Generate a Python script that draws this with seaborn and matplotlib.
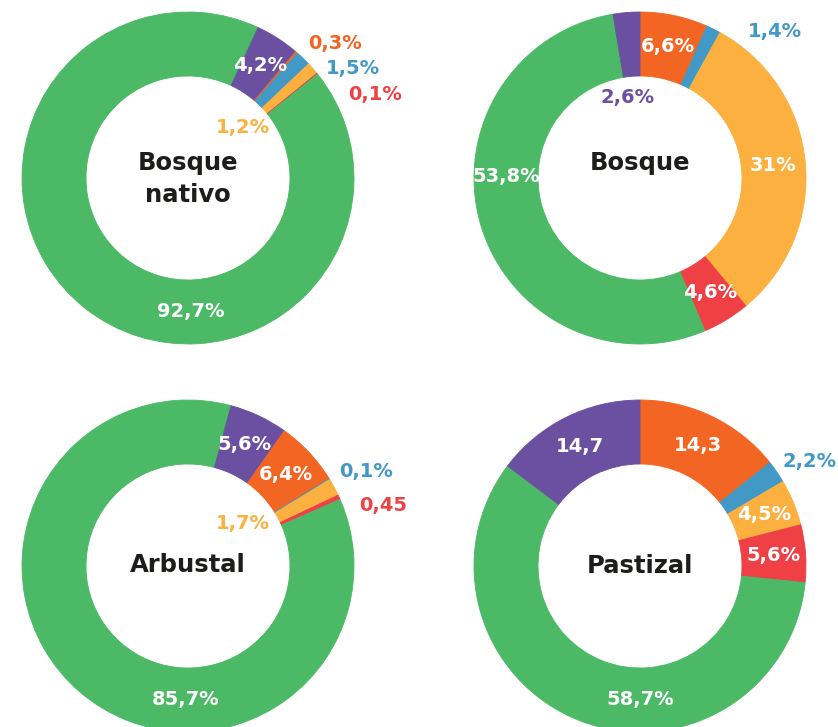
import matplotlib
matplotlib.use("Agg")
import matplotlib.pyplot as plt
import numpy as np
import seaborn as sns

# Land-cover categories, in clockwise drawing order
categories = ["Naranja", "Azul", "Amarillo", "Rojo", "Verde", "Violeta"]
palette = sns.color_palette(["#F26522", "#4299C6", "#FBB040", "#EE4045", "#4BB965", "#6B4FA1"])

# Shares (%) per land-cover class
titles = ["Bosque\nnativo", "Bosque", "Arbustal", "Pastizal"]
bosque_nativo = [0.3, 1.5, 1.2, 0.1, 92.7, 4.2]
bosque = [6.6, 1.4, 31.0, 4.6, 53.8, 2.6]
arbustal = [6.4, 0.1, 1.7, 0.45, 85.7, 5.6]
pastizal = [14.3, 2.2, 4.5, 5.6, 58.7, 14.7]

# Printed labels for each slice (same order as the values)
labels_bosque_nativo = ["0,3%", "1,5%", "1,2%", "0,1%", "92,7%", "4,2%"]
labels_bosque = ["6,6%", "1,4%", "31%", "4,6%", "53,8%", "2,6%"]
labels_arbustal = ["6,4%", "0,1%", "1,7%", "0,45", "85,7%", "5,6%"]
labels_pastizal = ["14,3", "2,2%", "4,5%", "5,6%", "58,7%", "14,7"]

W, H = 838, 727
sns.set_theme(style="white")
plt.rcParams["font.family"] = ["DejaVu Sans"]

fig = plt.figure(figsize=(W / 100, H / 100), dpi=100)
ax = fig.add_axes([0, 0, 1, 1])

R = 166.0
RING = 64.0
LABEL_R = (R - RING / 2) / R  # mid-ring radius as a fraction of R

# Per-donut layout: centre (px, from top-left), angle (deg, clockwise from
# 12 o'clock) where the first drawn slice begins, title offset and label
# placement.
# Placement: "in" -> inside the slice at its mid-angle,
#            ("ang", a) -> inside the ring at angle a,
#            (dx, dy)  -> free position relative to centre, in units of R.
charts = [
    dict(values=bosque_nativo, labels=labels_bosque_nativo, title=titles[0],
         center=(188, 178), start=25 + 15.12, title_dy=-1,
         place=[(0.886, 0.813), (0.994, 0.657), (0.331, 0.307), (1.127, 0.506),
                ("ang", 179), "in"]),
    dict(values=bosque, labels=labels_bosque, title=titles[1],
         center=(640, 178), start=0, title_dy=15,
         place=["in", (0.813, 0.880), "in", "in", ("ang", 270.5), (-0.072, 0.482)]),
    dict(values=arbustal, labels=labels_arbustal, title=titles[2],
         center=(188, 566), start=15 + 20.2, title_dy=1,
         place=["in", (1.072, 0.568), (0.331, 0.259), (1.175, 0.367),
                ("ang", 181), "in"]),
    dict(values=pastizal, labels=labels_pastizal, title=titles[3],
         center=(640, 566), start=0, title_dy=0,
         place=["in", (1.024, 0.627), "in", "in", ("ang", 180), "in"]),
]

for ch in charts:
    cx, cy_top = ch["center"]
    cy = H - cy_top
    vals = np.asarray(ch["values"], dtype=float)
    wedges, _ = ax.pie(
        vals, colors=palette, startangle=90 - ch["start"], counterclock=False,
        radius=R, center=(cx, cy), frame=True,
        wedgeprops=dict(width=RING, linewidth=0.6),
    )
    for w in wedges:
        w.set_edgecolor(w.get_facecolor())

    # cumulative angles (clockwise from top)
    fr = vals / vals.sum() * 360.0
    ends = ch["start"] + np.cumsum(fr)
    mids = ends - fr / 2

    for i, (txt, pl) in enumerate(zip(ch["labels"], ch["place"])):
        if isinstance(pl, str) or (isinstance(pl, tuple) and pl[0] == "ang"):
            a = mids[i] if isinstance(pl, str) else pl[1]
            a = np.deg2rad(a)
            x = cx + LABEL_R * R * np.sin(a)
            y = cy + LABEL_R * R * np.cos(a)
            color = "white"
        else:
            x = cx + pl[0] * R
            y = cy + pl[1] * R
            color = palette[i]
        ax.text(x, y, txt, ha="center", va="center", color=color,
                fontsize=14, fontweight="bold")

    ax.text(cx, cy + ch["title_dy"], ch["title"], ha="center", va="center",
            color="#1D1D1B", fontsize=17.5, fontweight="bold", linespacing=1.45)

ax.set_xlim(0, W)
ax.set_ylim(0, H)
ax.set_aspect("equal")
ax.axis("off")

fig.savefig("out.png", dpi=100, facecolor="white")
